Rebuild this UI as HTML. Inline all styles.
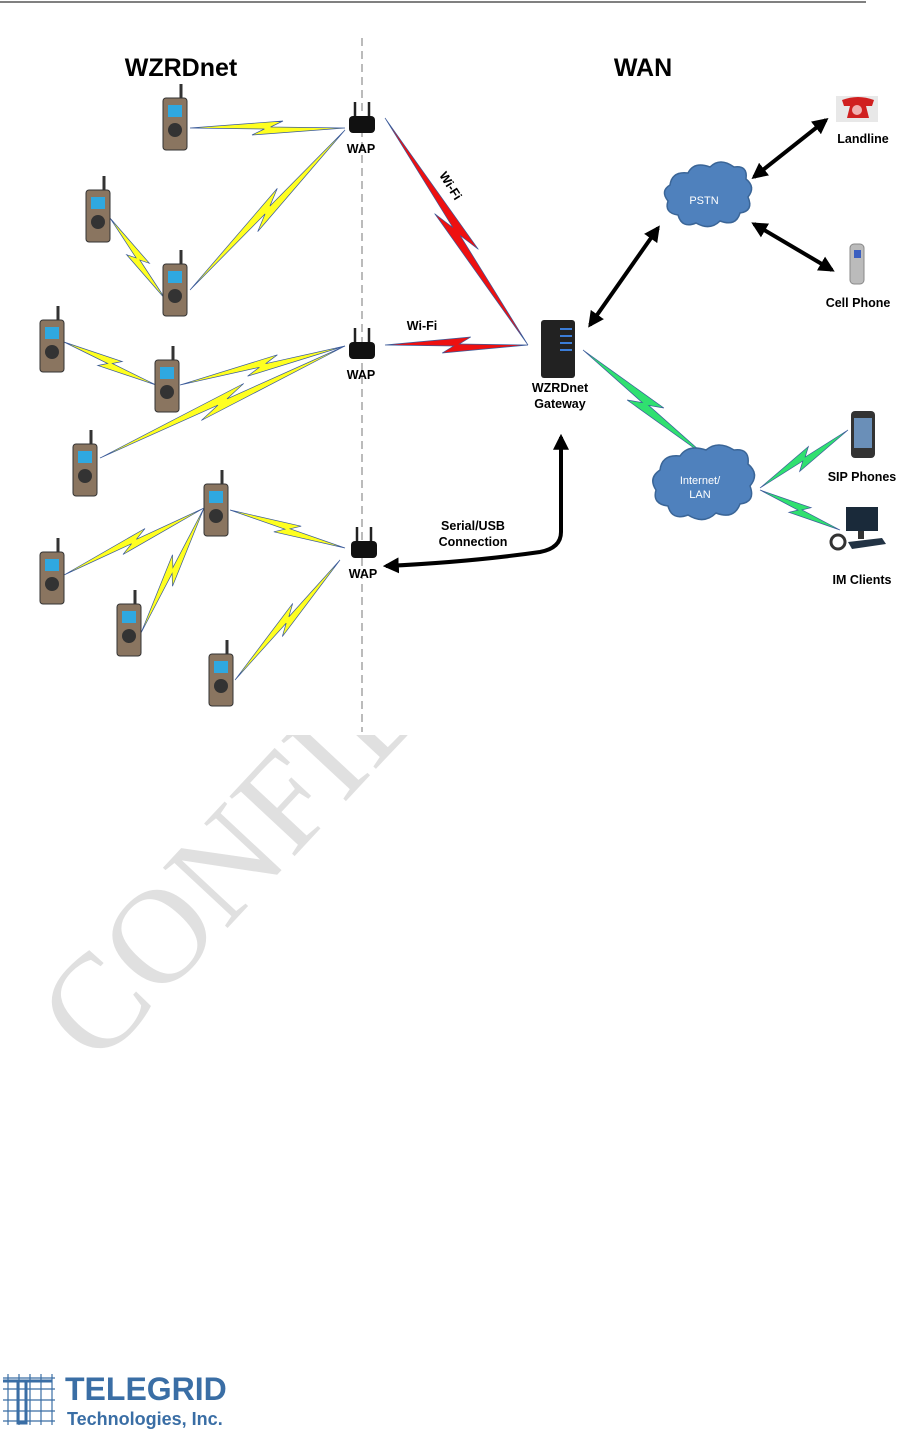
<!DOCTYPE html>
<html><head><meta charset="utf-8"><style>
html,body{margin:0;padding:0;background:#fff;}
svg{display:block;}
text{font-family:"Liberation Sans",sans-serif;}
</style></head><body>
<svg id="s" width="901" height="1431" viewBox="0 0 901 1431" xmlns="http://www.w3.org/2000/svg">
<defs>
<clipPath id="wm"><rect x="0" y="735" width="901" height="700"/></clipPath>
<marker id="ah" viewBox="0 0 10 10" refX="8" refY="5" markerWidth="4" markerHeight="4" orient="auto-start-reverse"><path d="M0,0 L10,5 L0,10 z" fill="#000"/></marker>
</defs>
<line x1="0" y1="2" x2="866" y2="2" stroke="#000" stroke-width="1"/>
<g clip-path="url(#wm)"><text x="97" y="1068" transform="rotate(-47 97 1068)" font-size="135" fill="#e0e0e0" style="font-family:'Liberation Serif',serif">CONFIDENTIAL</text></g>
<line x1="362" y1="38" x2="362" y2="732" stroke="#777" stroke-width="1" stroke-dasharray="8,5"/>
<text x="181" y="76" font-size="25" font-weight="bold" text-anchor="middle">WZRDnet</text>
<text x="643" y="76" font-size="25" font-weight="bold" text-anchor="middle">WAN</text>
<g id="links"></g>
<g id="devs"></g>
<g stroke="#000" stroke-width="4" fill="none">
<line x1="590" y1="325" x2="658" y2="228" marker-start="url(#ah)" marker-end="url(#ah)"/>
<line x1="754" y1="177" x2="826" y2="120" marker-start="url(#ah)" marker-end="url(#ah)"/>
<line x1="754" y1="224" x2="832" y2="270" marker-start="url(#ah)" marker-end="url(#ah)"/>
<path d="M561,437 L561,532 Q561,548 540,552 Q470,562 386,566" marker-start="url(#ah)" marker-end="url(#ah)"/>
</g>
<text x="473" y="530" font-size="12.5" font-weight="bold" text-anchor="middle">Serial/USB</text>
<text x="473" y="546" font-size="12.5" font-weight="bold" text-anchor="middle">Connection</text>
<text x="422" y="330" font-size="12.5" font-weight="bold" text-anchor="middle">Wi-Fi</text>
<text x="447" y="188" font-size="12.5" font-weight="bold" text-anchor="middle" transform="rotate(58 447 188)">Wi-Fi</text>
<g fill="#4f81bd" stroke="#3a6597" stroke-width="1.5">
<path d="M670,185 q2,-14 18,-12 q6,-12 22,-6 q10,-10 24,0 q14,-2 12,12 q10,8 2,18 q6,14 -8,16 q-4,14 -20,8 q-10,10 -24,2 q-14,6 -18,-8 q-14,-2 -10,-14 q-8,-10 2,-16z"/>
<path d="M660,470 q2,-16 20,-14 q8,-12 26,-6 q12,-10 28,0 q16,-2 14,14 q12,10 2,22 q6,16 -10,18 q-6,16 -24,9 q-12,12 -28,2 q-16,6 -20,-9 q-16,-2 -12,-16 q-8,-12 4,-20z"/>
</g>
<text x="704" y="204" font-size="11" fill="#fff" text-anchor="middle">PSTN</text>
<text x="700" y="484" font-size="11" fill="#fff" text-anchor="middle">Internet/</text>
<text x="700" y="498" font-size="11" fill="#fff" text-anchor="middle">LAN</text>
<rect x="541" y="320" width="34" height="58" rx="3" fill="#222"/>
<g fill="#3b7dd8"><rect x="560" y="328" width="12" height="2"/><rect x="560" y="335" width="12" height="2"/><rect x="560" y="342" width="12" height="2"/><rect x="560" y="349" width="12" height="2"/></g>
<text x="560" y="392" font-size="12.5" font-weight="bold" text-anchor="middle">WZRDnet</text>
<text x="560" y="408" font-size="12.5" font-weight="bold" text-anchor="middle">Gateway</text>
<rect x="836" y="96" width="42" height="26" fill="#e8e8e8"/>
<path d="M842,100 q16,-6 32,0 l-2,6 l-6,0 l3,12 l-22,0 l3,-12 l-6,0z" fill="#d02020"/>
<circle cx="857" cy="110" r="5" fill="#f0b0b0"/>
<text x="863" y="143" font-size="12.5" font-weight="bold" text-anchor="middle">Landline</text>
<rect x="850" y="244" width="14" height="40" rx="4" fill="#bbb" stroke="#888"/>
<rect x="854" y="250" width="7" height="8" fill="#3b5fc0"/>
<text x="858" y="307" font-size="12.5" font-weight="bold" text-anchor="middle">Cell Phone</text>
<rect x="851" y="411" width="24" height="47" rx="4" fill="#333"/>
<rect x="854" y="418" width="18" height="30" fill="#6a8fb8"/>
<text x="862" y="481" font-size="12.5" font-weight="bold" text-anchor="middle">SIP Phones</text>
<rect x="846" y="507" width="32" height="24" fill="#1a2a3a"/>
<rect x="858" y="531" width="6" height="8" fill="#333"/>
<path d="M848,542 l34,-4 l4,6 l-34,5z" fill="#234"/>
<circle cx="838" cy="542" r="7" fill="none" stroke="#333" stroke-width="3"/>
<text x="862" y="584" font-size="12.5" font-weight="bold" text-anchor="middle">IM Clients</text>
<g stroke="#3a6ea5" stroke-width="1.2">
<line x1="3" y1="1378" x2="55" y2="1378"/><line x1="3" y1="1389" x2="55" y2="1389"/><line x1="3" y1="1400" x2="55" y2="1400"/><line x1="3" y1="1411" x2="55" y2="1411"/><line x1="3" y1="1421" x2="55" y2="1421"/>
<line x1="8" y1="1374" x2="8" y2="1425"/><line x1="19" y1="1374" x2="19" y2="1425"/><line x1="30" y1="1374" x2="30" y2="1425"/><line x1="41" y1="1374" x2="41" y2="1425"/><line x1="52" y1="1374" x2="52" y2="1425"/>
</g>
<path d="M3,1381 L52,1381 M18,1381 L18,1423 L26,1423 L26,1381" stroke="#3a6ea5" stroke-width="3" fill="none"/>
<text x="65" y="1400" font-size="32" font-weight="bold" fill="#3a6ea5">TELEGRID</text>
<text x="67" y="1425" font-size="18" font-weight="bold" fill="#3a6ea5">Technologies, Inc.</text>
</svg>
<script>
var NS="http://www.w3.org/2000/svg";
function el(p,n,a){var e=document.createElementNS(NS,n);for(var k in a)e.setAttribute(k,a[k]);p.appendChild(e);return e;}
var L=document.getElementById("links"),D=document.getElementById("devs");
function bolt(x1,y1,x2,y2,c,w){w=w||7;var dx=x2-x1,dy=y2-y1,len=Math.hypot(dx,dy),ux=dx/len,uy=dy/len,nx=-uy,ny=ux;
function P(t,n){return (x1+dx*t+nx*n).toFixed(1)+","+(y1+dy*t+ny*n).toFixed(1);}
var pts=[P(0,0),P(0.6,-w),P(0.52,-1),P(1,0),P(0.4,w),P(0.48,1)];
el(L,"polygon",{points:pts.join(" "),fill:c,stroke:"#3a5a9a","stroke-width":"0.7"});}
var Y="#ffff20";
bolt(190,128,345,128,Y);bolt(190,290,345,130,Y,8);bolt(110,218,166,300,Y);bolt(64,342,156,385,Y);
bolt(180,385,345,346,Y);bolt(100,458,345,346,Y,8);bolt(230,510,345,548,Y);bolt(64,575,204,508,Y);
bolt(141,633,204,508,Y);bolt(235,680,340,560,Y);
bolt(385,118,528,345,"#ee1010",9);bolt(385,345,528,345,"#ee1010",8);
bolt(583,350,708,458,"#30e070",9);bolt(760,488,848,430,"#30e070",8);bolt(760,490,840,530,"#30e070",7);
function radio(x,y){el(D,"line",{x1:x+18,y1:y,x2:x+18,y2:y-14,stroke:"#333","stroke-width":"3"});
el(D,"rect",{x:x,y:y,width:24,height:52,rx:3,fill:"#8a7560",stroke:"#333"});
el(D,"rect",{x:x+5,y:y+7,width:14,height:12,fill:"#2fa8e0"});
el(D,"circle",{cx:x+12,cy:y+32,r:7,fill:"#333"});}
[[163,98],[86,190],[163,264],[40,320],[155,360],[73,444],[204,484],[40,552],[117,604],[209,654]].forEach(function(p){radio(p[0],p[1]);});
function wap(x,y){el(D,"line",{x1:x-7,y1:y,x2:x-7,y2:y-14,stroke:"#222","stroke-width":"2.5"});
el(D,"line",{x1:x+7,y1:y,x2:x+7,y2:y-14,stroke:"#222","stroke-width":"2.5"});
el(D,"rect",{x:x-13,y:y,width:26,height:17,rx:4,fill:"#111"});
var t=el(D,"text",{x:x-1,y:y+37,"font-size":"12.5","font-weight":"bold","text-anchor":"middle"});t.textContent="WAP";}
wap(362,116);wap(362,342);wap(364,541);
</script>
</body></html>
